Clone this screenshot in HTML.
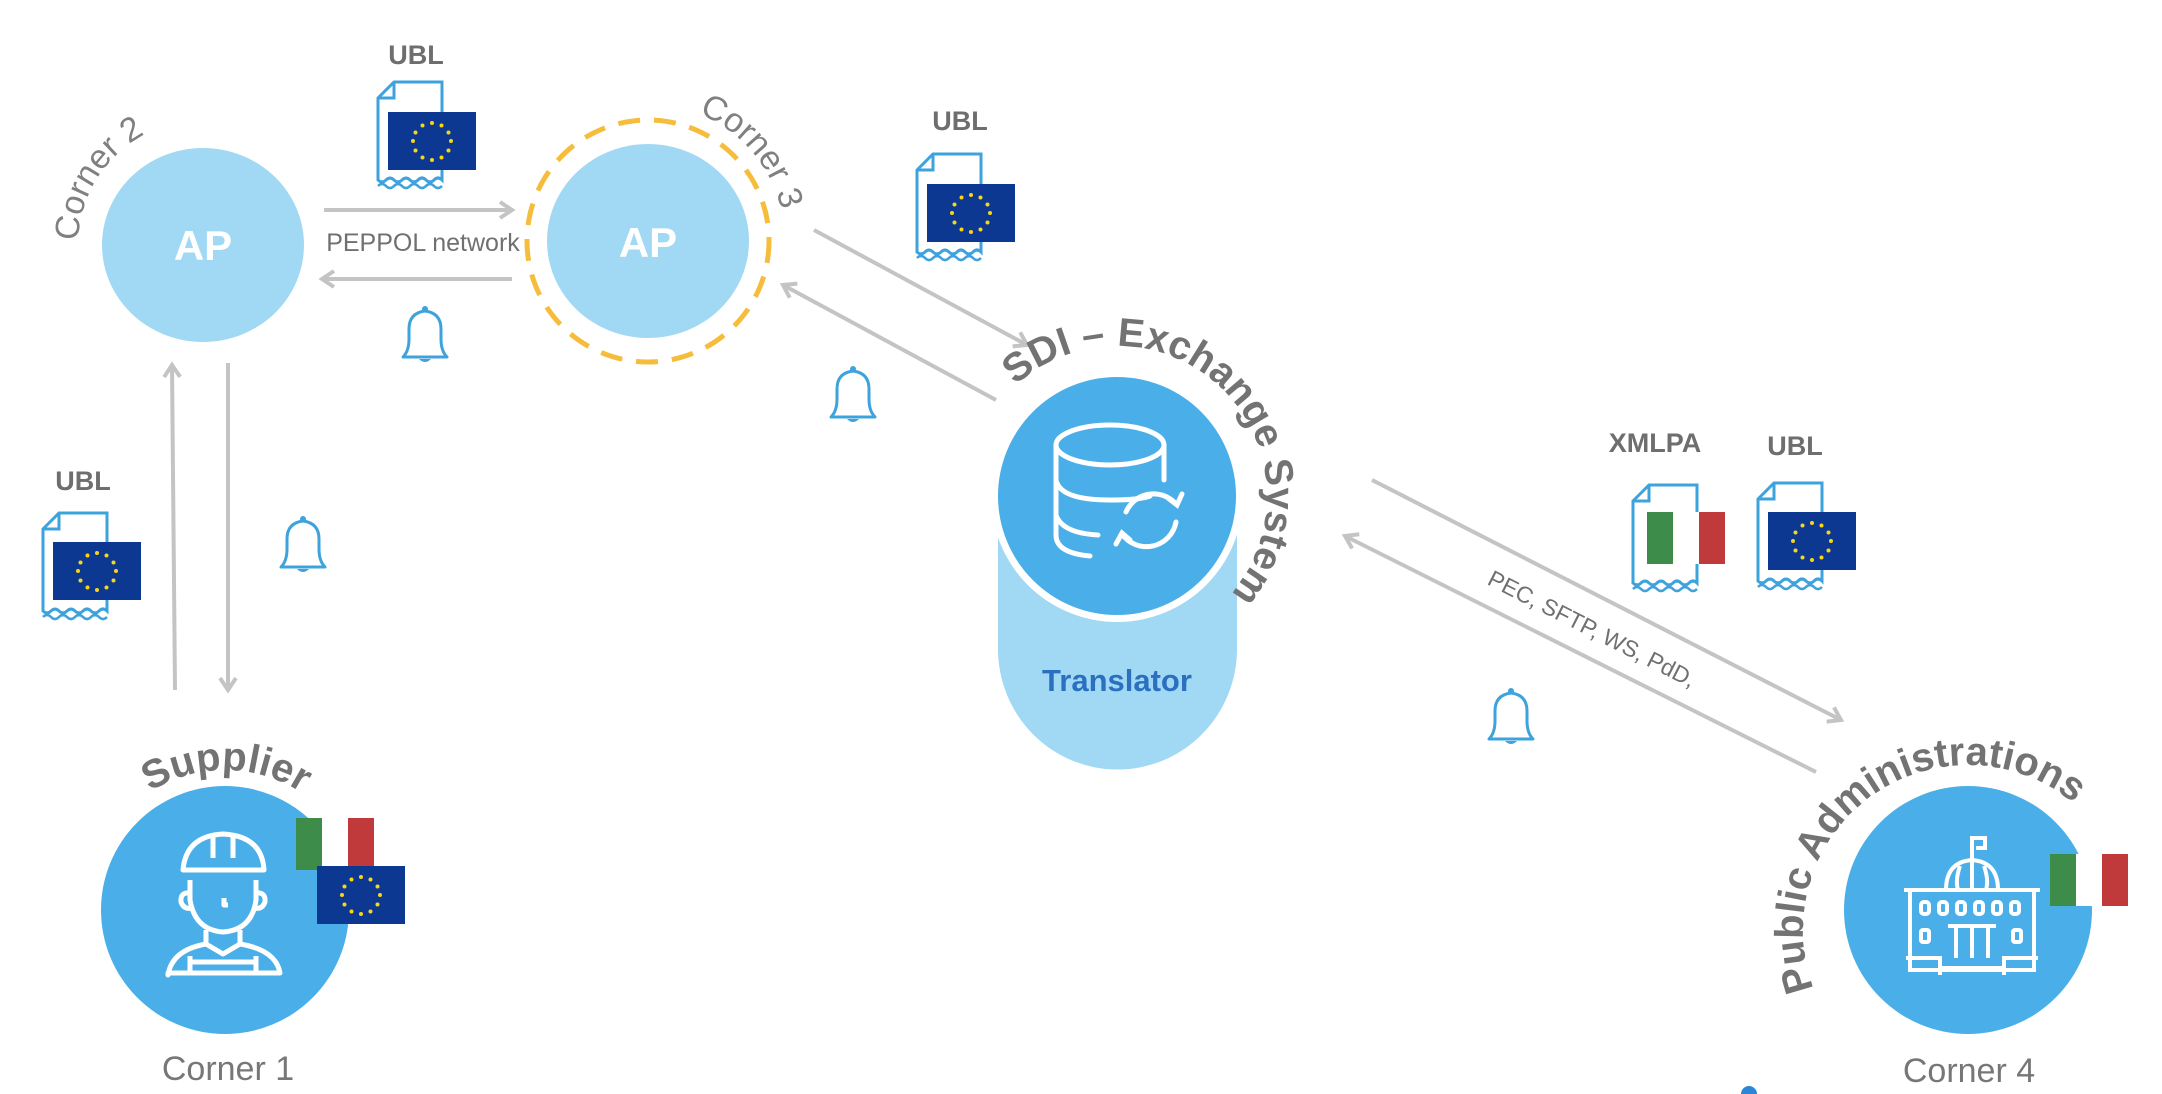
<!DOCTYPE html>
<html><head><meta charset="utf-8"><style>
html,body{margin:0;padding:0;background:#fff;}
svg{display:block;font-family:"Liberation Sans","DejaVu Sans",sans-serif;}
</style></head><body>
<svg width="2162" height="1094" viewBox="0 0 2162 1094" xmlns="http://www.w3.org/2000/svg">
<defs>
<g id="eu">
  <rect x="0" y="0" width="88" height="58" fill="#0c3891"/>
  <g fill="#f7d51a">
    <circle cx="44" cy="11" r="2"/><circle cx="53.5" cy="13.5" r="2"/><circle cx="60.5" cy="20.5" r="2"/>
    <circle cx="63" cy="29" r="2"/><circle cx="60.5" cy="38.5" r="2"/><circle cx="53.5" cy="45.5" r="2"/>
    <circle cx="44" cy="48" r="2"/><circle cx="34.5" cy="45.5" r="2"/><circle cx="27.5" cy="38.5" r="2"/>
    <circle cx="25" cy="29" r="2"/><circle cx="27.5" cy="20.5" r="2"/><circle cx="34.5" cy="13.5" r="2"/>
  </g>
</g>
<g id="it">
  <rect x="0" y="0" width="26" height="52" fill="#3d8c4a"/>
  <rect x="26" y="0" width="26" height="52" fill="#fff"/>
  <rect x="52" y="0" width="26" height="52" fill="#c0393b"/>
</g>
<g id="page">
  <path d="M2,18 L18,2 L66,2 L66,100 Q62,96 58,100 Q54,104 50,100 Q46,96 42,100 Q38,104 34,100 Q30,96 26,100 Q22,104 18,100 Q14,96 10,100 Q6,104 2,100 Z" fill="#fff" stroke="#3ea3dc" stroke-width="3"/>
  <path d="M2,18 L18,18 L18,2" fill="none" stroke="#3ea3dc" stroke-width="3"/>
  <path d="M2,106 Q6,102 10,106 Q14,110 18,106 Q22,102 26,106 Q30,110 34,106 Q38,102 42,106 Q46,110 50,106 Q54,102 58,106 Q62,110 66,106" fill="none" stroke="#3ea3dc" stroke-width="2.5"/>
</g>
<g id="bell">
  <path d="M-22,22 Q-16,16 -16,4 L-16,-6 Q-16,-22 0,-24 Q16,-22 16,-6 L16,4 Q16,16 22,22 Z" fill="#fff" stroke="#3ea3dc" stroke-width="3" stroke-linejoin="round"/>
  <circle cx="0" cy="-26" r="3" fill="#3ea3dc"/>
  <path d="M-6,24 Q0,30 6,24 Z" fill="#3ea3dc"/>
</g>
<marker id="ah" markerWidth="20" markerHeight="20" refX="16" refY="10" orient="auto" markerUnits="userSpaceOnUse">
  <path d="M4,2 L16,10 L4,18" fill="none" stroke="#c4c4c4" stroke-width="4"/>
</marker>
<path id="pC2" d="M78,245 A125,125 0 1 1 328,245 A125,125 0 1 1 78,245"/>
<path id="pC3" d="M511,241 A137,137 0 1 1 785,241 A137,137 0 1 1 511,241"/>
<path id="pSup" d="M85,910 A140,140 0 1 1 365,910 A140,140 0 1 1 85,910"/>
<path id="pSDI" d="M967,496 A150,150 0 1 1 1267,496 A150,150 0 1 1 967,496"/>
<path id="pPA" d="M1968,1095 A165,165 0 1 1 1968,765 A165,165 0 1 1 1968,1095"/>
</defs>

<g stroke="#c4c4c4" stroke-width="4" fill="none">
  <line x1="324" y1="210" x2="512" y2="210" marker-end="url(#ah)"/>
  <line x1="512" y1="279" x2="322" y2="279" marker-end="url(#ah)"/>
  <line x1="814" y1="230" x2="1027" y2="345" marker-end="url(#ah)"/>
  <line x1="996" y1="400" x2="783" y2="285" marker-end="url(#ah)"/>
  <line x1="1372" y1="480" x2="1841" y2="720" marker-end="url(#ah)"/>
  <line x1="1816" y1="772" x2="1345" y2="536" marker-end="url(#ah)"/>
  <line x1="175" y1="690" x2="172" y2="365" marker-end="url(#ah)"/>
  <line x1="228" y1="363" x2="228" y2="690" marker-end="url(#ah)"/>
</g>

<ellipse cx="203" cy="245" rx="101" ry="97" fill="#a1d9f4"/>
<text x="203" y="260" font-size="42" font-weight="bold" fill="#fff" text-anchor="middle">AP</text>
<circle cx="648" cy="241" r="121" fill="none" stroke="#f5bd3b" stroke-width="5" stroke-dasharray="22 14"/>
<ellipse cx="648" cy="241" rx="101" ry="97" fill="#a1d9f4"/>
<text x="648" y="257" font-size="42" font-weight="bold" fill="#fff" text-anchor="middle">AP</text>

<text font-size="34" fill="#808080"><textPath href="#pC2" startOffset="70" text-anchor="middle">Corner 2</textPath></text>
<text font-size="34" fill="#808080"><textPath href="#pC3" startOffset="333" text-anchor="middle">Corner 3</textPath></text>

<text x="423" y="251" font-size="25" fill="#707070" text-anchor="middle">PEPPOL network</text>

<text x="416" y="64" font-size="27" font-weight="bold" fill="#6e6e6e" text-anchor="middle">UBL</text>
<use href="#page" x="376" y="80"/><use href="#eu" x="388" y="112"/>
<text x="960" y="130" font-size="27" font-weight="bold" fill="#6e6e6e" text-anchor="middle">UBL</text>
<use href="#page" x="915" y="152"/><use href="#eu" x="927" y="184"/>
<text x="83" y="490" font-size="27" font-weight="bold" fill="#6e6e6e" text-anchor="middle">UBL</text>
<use href="#page" x="41" y="511"/><use href="#eu" x="53" y="542"/>
<text x="1655" y="452" font-size="27" font-weight="bold" fill="#6e6e6e" text-anchor="middle">XMLPA</text>
<use href="#page" x="1631" y="483"/><use href="#it" x="1647" y="512"/>
<text x="1795" y="455" font-size="27" font-weight="bold" fill="#6e6e6e" text-anchor="middle">UBL</text>
<use href="#page" x="1756" y="481"/><use href="#eu" x="1768" y="512"/>

<use href="#bell" x="425" y="335"/>
<use href="#bell" x="853" y="395"/>
<use href="#bell" x="303" y="545"/>
<use href="#bell" x="1511" y="717"/>

<path d="M998,500 L1237,500 L1237,649 A119,120 0 0 1 998,649 Z" fill="#a1d9f4"/>
<circle cx="1117" cy="496" r="126" fill="#fff"/>
<circle cx="1117" cy="496" r="119" fill="#4aafe9"/>
<g stroke="#fff" stroke-width="5" fill="none" stroke-linecap="round">
  <ellipse cx="1110" cy="445" rx="54" ry="20"/>
  <path d="M1056,445 L1056,535 Q1056,553 1090,556"/>
  <path d="M1164,445 L1164,480"/>
  <path d="M1056,480 Q1060,500 1110,500 Q1140,500 1150,496"/>
  <path d="M1056,515 Q1062,533 1098,535"/>
  <path d="M1126,512 A30,30 0 0 1 1176,504"/>
  <path d="M1176,522 A30,30 0 0 1 1122,534"/>
  <path d="M1168,498 L1177,505 L1182,494"/>
  <path d="M1130,540 L1122,533 L1116,544"/>
</g>
<text x="1117" y="691" font-size="31" font-weight="bold" fill="#2b70c0" text-anchor="middle">Translator</text>
<text font-size="40" font-weight="bold" fill="#737373"><textPath href="#pSDI" startOffset="351" text-anchor="middle">SDI – Exchange System</textPath></text>

<text x="1593" y="637" font-size="23" fill="#707070" text-anchor="middle" transform="rotate(27 1593 627)">PEC, SFTP, WS, PdD,</text>

<circle cx="225" cy="910" r="124" fill="#4aafe9"/>
<g stroke="#fff" stroke-width="5" fill="none" stroke-linejoin="round">
  <path d="M183,870 Q186,836 223,834 Q262,836 264,870 Z"/>
  <path d="M213,834 L213,858 M233,834 L233,858"/>
  <path d="M190,880 L190,900 Q195,930 223,932 Q252,930 256,900 L256,880"/>
  <path d="M190,893 Q180,892 181,902 Q184,910 192,908 M256,893 Q266,892 265,902 Q262,910 254,908"/>
  <path d="M224,898 L224,905 L228,905"/>
  <path d="M206,930 L206,944 L223,954 L240,944 L240,930"/>
  <path d="M206,944 Q172,950 168,975 L168,973 L280,973 Q276,950 240,944"/>
  <path d="M190,956 L190,973 M256,956 L256,973 M190,962 L256,962"/>
</g>
<text font-size="40" font-weight="bold" fill="#737373"><textPath href="#pSup" startOffset="221" text-anchor="middle">Supplier</textPath></text>
<use href="#it" x="296" y="818"/>
<use href="#eu" x="317" y="866"/>
<text x="228" y="1080" font-size="34" fill="#777" text-anchor="middle">Corner 1</text>

<circle cx="1968" cy="910" r="124" fill="#4aafe9"/>
<g stroke="#fff" stroke-width="4" fill="none">
  <path d="M1972,875 L1972,838 L1985,838 L1985,848 L1976,848"/>
  <path d="M1946,890 Q1946,862 1972,860 Q1998,862 1998,890 Z M1972,862 L1972,890 M1960,866 Q1955,880 1958,890 M1984,866 Q1989,880 1986,890"/>
  <rect x="1910" y="890" width="124" height="80"/>
  <path d="M1904,890 L2040,890"/>
  <g>
    <rect x="1921" y="902" width="8" height="12" rx="3"/><rect x="1939" y="902" width="8" height="12" rx="3"/>
    <rect x="1957" y="902" width="8" height="12" rx="3"/><rect x="1975" y="902" width="8" height="12" rx="3"/>
    <rect x="1993" y="902" width="8" height="12" rx="3"/><rect x="2011" y="902" width="8" height="12" rx="3"/>
    <rect x="1921" y="930" width="8" height="12" rx="2"/><rect x="2013" y="930" width="8" height="12" rx="2"/>
  </g>
  <path d="M1948,926 L1996,926 M1956,926 L1956,958 M1972,926 L1972,958 M1988,926 L1988,958"/>
  <path d="M1906,958 L1940,958 L1940,975 M2004,975 L2004,958 L2038,958 M1940,968 L2004,968"/>
</g>
<use href="#it" x="2050" y="854"/>
<text font-size="40" font-weight="bold" fill="#737373"><textPath href="#pPA" startOffset="416" text-anchor="middle">Public Administrations</textPath></text>
<text x="1969" y="1082" font-size="34" fill="#777" text-anchor="middle">Corner 4</text>
<circle cx="1749" cy="1094" r="8" fill="#2b86d8"/>
</svg>
</body></html>
